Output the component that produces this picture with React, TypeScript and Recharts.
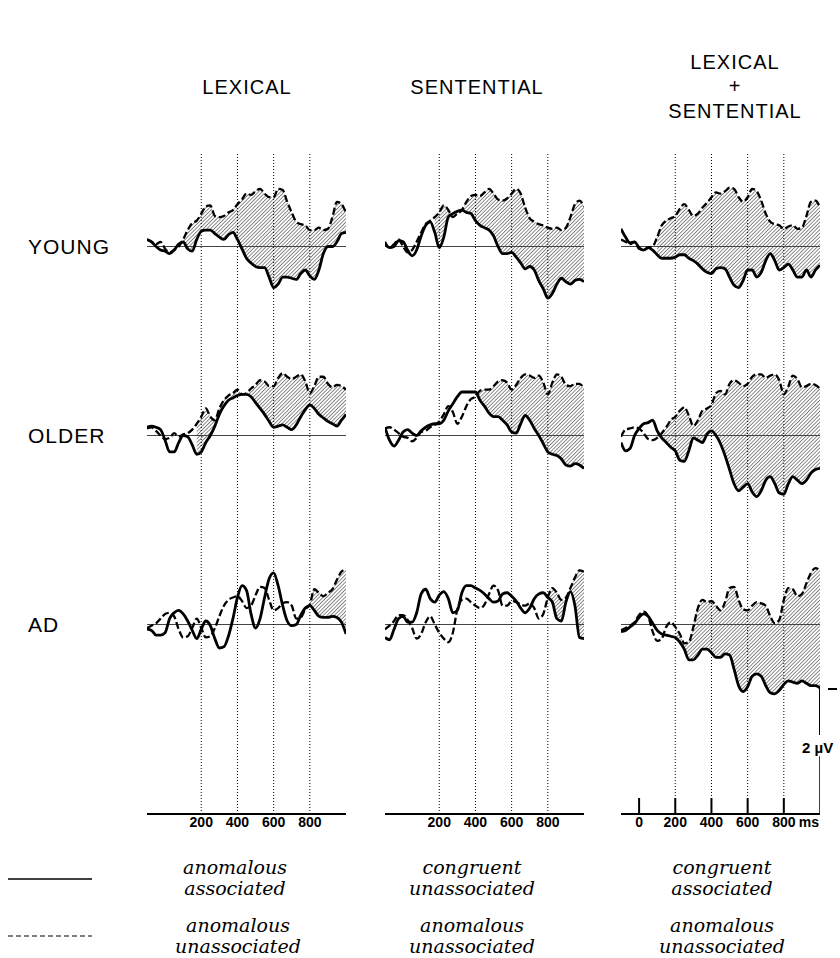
import React from 'react'
import { ComposedChart, Line, Area, XAxis, YAxis, ReferenceLine } from 'recharts'

// sample times (ms), shared by every panel
const TIMES = [-100, -75, -50, -25, 0, 25, 50, 75, 100, 125, 150, 175, 200, 225, 250, 275, 300, 325, 350, 375, 400, 425, 450, 475, 500, 525, 550, 575, 600, 625, 650, 675, 700, 725, 750, 775, 800, 825, 850, 875, 900, 925, 950, 975, 1000]
const GRID_TIMES = [200, 400, 600, 800]
const TICKS_PLAIN = [200, 400, 600, 800]
const TICKS_ZERO = [0, 200, 400, 600, 800]

// amplitudes in microvolts (negative plotted up)
// YOUNG
const youngLexSolid = [-0.3, -0.2, 0, 0.15, 0.2, 0.3, 0.15, -0.1, -0.2, 0.1, 0.2, -0.3, -0.65, -0.7, -0.7, -0.55, -0.4, -0.3, -0.5, -0.6, -0.3, 0.1, 0.5, 0.7, 0.85, 0.9, 0.9, 1.3, 1.75, 1.6, 1.3, 1.3, 1.35, 1.4, 1.15, 1.0, 1.25, 1.4, 1.0, 0.3, 0, 0, -0.2, -0.55, -0.6]
const youngLexDashed = [-0.3, -0.2, -0.1, -0.2, 0.1, 0.25, 0.15, 0, -0.3, -0.7, -1.0, -1.1, -1.4, -1.7, -1.75, -1.3, -1.25, -1.3, -1.45, -1.55, -1.8, -2.0, -2.25, -2.2, -2.35, -2.45, -2.25, -2.1, -2.1, -2.45, -2.4, -1.9, -1.45, -1.05, -0.95, -0.9, -0.7, -0.7, -0.8, -0.7, -0.75, -1.25, -1.9, -1.8, -1.45]
const youngSentSolid = [-0.1, 0.05, 0, -0.25, -0.2, 0.15, 0.4, 0.15, -0.45, -0.9, -1.05, -0.6, 0.05, -0.4, -1.25, -1.4, -1.5, -1.55, -1.45, -1.4, -1.1, -0.9, -0.8, -0.7, -0.45, 0, 0.3, 0.3, 0.25, 0.45, 0.7, 0.95, 0.85, 1.0, 1.45, 1.8, 2.2, 2.0, 1.6, 1.35, 1.5, 1.6, 1.45, 1.4, 1.5]
const youngSentDashed = [-0.2, 0.05, -0.1, -0.3, 0, 0.25, 0.15, -0.2, -0.6, -0.95, -1.1, -1.25, -1.45, -1.75, -1.55, -1.25, -1.4, -1.55, -1.9, -2.15, -2.2, -2.15, -2.3, -2.45, -2.25, -2.0, -1.95, -2.05, -2.25, -2.45, -2.25, -1.65, -1.2, -1.05, -0.95, -0.9, -0.8, -0.75, -0.8, -0.7, -0.8, -1.25, -1.8, -1.95, -1.7]
const youngBothSolid = [-0.75, -0.4, -0.15, -0.2, 0.05, 0.15, 0.05, 0.15, 0.35, 0.5, 0.5, 0.5, 0.45, 0.35, 0.35, 0.5, 0.6, 0.75, 0.95, 1.1, 1.15, 0.95, 0.9, 0.95, 1.3, 1.65, 1.75, 1.45, 1.0, 1.0, 1.3, 1.1, 0.6, 0.3, 0.6, 1.0, 0.9, 0.75, 1.0, 1.3, 1.3, 1.0, 1.3, 1.0, 0.8]
const youngBothDashed = [-0.3, -0.2, -0.1, -0.2, 0.1, 0.15, 0.05, 0, -0.4, -0.9, -1.1, -1.2, -1.3, -1.6, -1.8, -1.55, -1.3, -1.4, -1.65, -1.85, -2.1, -2.3, -2.25, -2.35, -2.5, -2.45, -2.1, -1.9, -2.1, -2.45, -2.35, -1.95, -1.4, -1.05, -0.95, -0.9, -0.75, -0.85, -0.9, -0.75, -0.8, -1.3, -1.9, -1.95, -1.65]

// OLDER
const olderLexSolid = [-0.35, -0.4, -0.35, -0.25, 0.2, 0.7, 0.7, 0.3, 0, 0.05, 0.4, 0.8, 0.7, 0.3, 0, -0.4, -0.9, -1.25, -1.5, -1.6, -1.7, -1.75, -1.75, -1.65, -1.4, -1.15, -0.9, -0.6, -0.35, -0.4, -0.45, -0.35, -0.25, -0.45, -0.8, -1.1, -1.3, -1.15, -0.9, -0.75, -0.6, -0.5, -0.4, -0.65, -0.9]
const olderLexDashed = [-0.3, -0.35, -0.2, 0, 0.15, 0.1, -0.1, 0.05, -0.05, -0.1, -0.25, -0.5, -0.8, -1.15, -0.8, -0.65, -1.15, -1.5, -1.7, -1.8, -1.95, -1.75, -1.8, -2.0, -2.15, -2.35, -2.3, -2.1, -2.1, -2.45, -2.65, -2.5, -2.4, -2.5, -2.6, -2.3, -1.8, -2.1, -2.5, -2.5, -2.2, -2.05, -2.15, -2.1, -1.95]
const olderSentSolid = [-0.35, 0.2, 0.45, 0.2, -0.15, -0.25, -0.1, 0, -0.2, -0.35, -0.45, -0.5, -0.5, -0.65, -1.05, -1.35, -1.65, -1.85, -1.85, -1.85, -1.85, -1.5, -1.25, -0.95, -0.8, -0.8, -0.65, -0.45, -0.15, -0.1, -0.5, -0.85, -0.65, -0.3, 0, 0.35, 0.7, 0.8, 0.85, 1.0, 1.25, 1.3, 1.2, 1.25, 1.4]
const olderSentDashed = [-0.3, -0.35, -0.25, -0.1, 0.05, 0.1, 0.25, 0.1, -0.15, -0.2, -0.35, -0.45, -0.6, -0.9, -1.25, -1.0, -0.5, -0.8, -1.25, -1.55, -1.65, -1.9, -1.95, -1.95, -2.1, -2.3, -2.35, -2.25, -1.95, -2.15, -2.45, -2.6, -2.55, -2.45, -2.55, -2.25, -1.75, -2.25, -2.6, -2.5, -2.15, -2.1, -2.2, -2.2, -2.0]
const olderBothSolid = [0.3, 0.65, 0.55, 0, -0.3, -0.5, -0.55, -0.65, -0.2, 0.1, 0.3, 0.5, 0.65, 1.05, 1.1, 0.65, 0.1, 0.2, 0.3, -0.05, -0.2, 0, 0.35, 0.85, 1.45, 2.05, 2.35, 2.2, 2.05, 2.4, 2.6, 2.35, 1.9, 1.75, 2.05, 2.45, 2.5, 2.05, 1.75, 1.9, 2.05, 1.9, 1.6, 1.45, 1.4]
const olderBothDashed = [0.05, -0.25, -0.3, -0.35, -0.3, -0.1, 0.15, 0.2, 0.1, -0.1, -0.35, -0.65, -0.8, -1.05, -1.2, -0.85, -0.4, -0.65, -1.05, -1.15, -1.3, -1.8, -1.9, -1.75, -2.2, -2.35, -2.25, -2.1, -2.2, -2.5, -2.6, -2.6, -2.45, -2.55, -2.6, -2.35, -1.75, -2.1, -2.55, -2.4, -2.05, -2.1, -2.2, -2.15, -2.0]

// AD
const adLexSolid = [0.2, 0.25, 0.45, 0.45, 0.35, -0.25, -0.5, -0.6, -0.45, -0.15, 0.25, 0.6, 0.2, -0.15, 0.05, 0.6, 1.0, 0.95, 0.5, -0.25, -1.15, -1.65, -1.45, -0.45, 0.15, -0.25, -1.15, -1.95, -2.2, -1.65, -0.8, -0.15, 0.05, 0, -0.4, -0.7, -0.8, -0.6, -0.35, -0.3, -0.3, -0.35, -0.3, -0.1, 0.4]
const adLexDashed = [0.15, 0.05, -0.05, -0.25, -0.45, -0.5, -0.35, 0.2, 0.55, 0.5, 0.15, -0.25, 0.15, 0.55, 0.5, 0.15, -0.35, -0.8, -1.05, -1.15, -1.2, -1.0, -0.7, -0.8, -1.25, -1.6, -1.55, -1.05, -0.6, -0.7, -0.9, -0.95, -0.8, -0.25, -0.3, -0.65, -0.85, -1.5, -1.35, -1.2, -1.35, -1.5, -1.9, -2.25, -2.35]
const adSentSolid = [0.55, 0.65, 0.2, -0.25, -0.35, -0.1, -0.1, -0.5, -1.3, -1.5, -1.1, -0.95, -1.25, -1.4, -1.1, -0.5, -0.6, -1.35, -1.65, -1.65, -1.55, -1.45, -1.3, -1.1, -0.95, -1.0, -1.3, -1.35, -1.2, -1.0, -0.7, -0.5, -0.7, -1.1, -1.3, -1.35, -1.15, -0.95, -0.25, -0.15, -0.95, -1.4, -0.8, 0.55, 0.6]
const adSentDashed = [0.2, 0.05, -0.15, -0.4, -0.4, -0.2, 0.15, 0.6, 0.4, -0.1, -0.35, 0, 0.35, 0.6, 0.75, 0.35, -0.65, -1.05, -1.1, -0.95, -0.8, -0.7, -0.85, -1.3, -1.65, -1.45, -0.8, -0.8, -1.0, -0.95, -0.85, -0.8, -0.9, -0.7, -0.25, -0.45, -1.15, -1.55, -1.35, -1.05, -1.15, -1.55, -2.0, -2.3, -2.25]
const adBothSolid = [0.3, 0.25, 0.1, -0.05, -0.3, -0.45, -0.35, -0.05, 0.25, 0.4, 0.45, 0.5, 0.55, 0.75, 1.05, 1.5, 1.5, 1.3, 1.05, 1.05, 1.2, 1.4, 1.4, 1.25, 1.3, 1.9, 2.6, 2.85, 2.65, 2.2, 2.1, 2.2, 2.6, 2.9, 2.95, 2.8, 2.55, 2.4, 2.45, 2.5, 2.4, 2.5, 2.6, 2.6, 2.7]
const adBothDashed = [0.25, 0.15, 0.05, -0.1, -0.4, -0.55, -0.35, 0.3, 0.7, 0.6, 0.1, -0.1, 0.1, 0.4, 0.8, 0.75, 0.1, -0.7, -1.05, -0.95, -1.0, -0.8, -0.6, -0.95, -1.55, -1.6, -1.05, -0.65, -0.6, -0.8, -0.95, -0.9, -0.8, -0.35, -0.05, -0.2, -1.05, -1.55, -1.5, -1.2, -1.3, -1.75, -2.2, -2.4, -2.3]

// layout
const COL_X = [147, 385, 621]
const ROW_TOP = [152, 341, 530]
const PLOT_W = 199
const ROW_H = 189
const LAST_H = 284
const AXIS_H = 30
const SANS = '"Liberation Sans", Arial, sans-serif'
const SERIF = '"DejaVu Serif", serif'

const PANELS = [
  { id: 'yl', row: 0, col: 0, solid: youngLexSolid, dashed: youngLexDashed, shadeFrom: 100 },
  { id: 'ys', row: 0, col: 1, solid: youngSentSolid, dashed: youngSentDashed, shadeFrom: 175 },
  { id: 'yb', row: 0, col: 2, solid: youngBothSolid, dashed: youngBothDashed, shadeFrom: 100 },
  { id: 'ol', row: 1, col: 0, solid: olderLexSolid, dashed: olderLexDashed, shadeFrom: 175 },
  { id: 'os', row: 1, col: 1, solid: olderSentSolid, dashed: olderSentDashed, shadeFrom: 400 },
  { id: 'ob', row: 1, col: 2, solid: olderBothSolid, dashed: olderBothDashed, shadeFrom: 100 },
  { id: 'al', row: 2, col: 0, solid: adLexSolid, dashed: adLexDashed, shadeFrom: 800 },
  { id: 'as', row: 2, col: 1, solid: adSentSolid, dashed: adSentDashed, shadeFrom: 800 },
  { id: 'ab', row: 2, col: 2, solid: adBothSolid, dashed: adBothDashed, shadeFrom: 200 },
]

const makeTick = (withMs: boolean) => (props: any) => {
  const { x, y, payload } = props
  return (
    <g>
      <text x={x} y={y} dy={9} textAnchor="middle" fontSize={14} fontWeight="bold" fontFamily={SANS} fill="#000">
        {payload.value}
      </text>
      {withMs && payload.value === 800 && (
        <text x={x + 15} y={y} dy={9} textAnchor="start" fontSize={14} fontWeight="bold" fontFamily={SANS} fill="#000">
          ms
        </text>
      )}
    </g>
  )
}

function Panel({ p }: { p: any }) {
  const last = p.row === 2
  const rightCol = p.col === 2
  const domain = last ? [-4.02, 8.06] : [-4.02, 4.02]
  const data = TIMES.map((t, i) => ({
    t,
    solid: p.solid[i],
    dashed: p.dashed[i],
    shade: t >= p.shadeFrom ? [p.solid[i], p.dashed[i]] : null,
  }))

  return (
    <div style={{ position: 'absolute', left: COL_X[p.col], top: ROW_TOP[p.row] }}>
      <ComposedChart width={PLOT_W} height={last ? LAST_H + AXIS_H : ROW_H} data={data} margin={{ top: 0, right: 0, bottom: 0, left: 0 }}>
        <defs>
          <pattern id={`hatch-${p.id}`} patternUnits="userSpaceOnUse" width="2.6" height="2.6" patternTransform="rotate(45)">
            <line x1="0" y1="0" x2="0" y2="2.6" stroke="#000" strokeWidth="1.5" />
          </pattern>
        </defs>
        <XAxis
          type="number"
          dataKey="t"
          domain={[-100, 1000]}
          hide={!last}
          height={AXIS_H}
          ticks={rightCol ? TICKS_ZERO : TICKS_PLAIN}
          interval={0}
          axisLine={{ stroke: '#000', strokeWidth: 2 }}
          tickLine={false}
          tickSize={2}
          tickMargin={2}
          tick={makeTick(rightCol)}
        />
        <YAxis type="number" hide reversed domain={domain} allowDataOverflow />
        <ReferenceLine y={0} stroke="#444" strokeWidth={1} />
        {GRID_TIMES.map((t) => (
          <ReferenceLine key={t} x={t} stroke="#000" strokeWidth={1} strokeDasharray="1 2" />
        ))}
        <Area dataKey="shade" type="monotone" fill={`url(#hatch-${p.id})`} stroke="none" isAnimationActive={false} />
        <Line dataKey="dashed" type="monotone" stroke="#000" strokeWidth={2.3} strokeDasharray="7 3" dot={false} activeDot={false} isAnimationActive={false} />
        <Line dataKey="solid" type="monotone" stroke="#000" strokeWidth={2.8} dot={false} activeDot={false} isAnimationActive={false} />
        {last && rightCol &&
          TICKS_ZERO.map((t) => (
            <ReferenceLine key={`tk${t}`} segment={[{ x: t, y: 8.06 }, { x: t, y: 7.38 }]} stroke="#000" strokeWidth={2} />
          ))}
        {last && rightCol && (
          <ReferenceLine segment={[{ x: 1000, y: 2.7 }, { x: 1000, y: 4.7 }]} stroke="#000" strokeWidth={2} ifOverflow="visible" />
        )}
        {last && rightCol && (
          <ReferenceLine segment={[{ x: 1000, y: 5.6 }, { x: 1000, y: 8.06 }]} stroke="#000" strokeWidth={1.5} ifOverflow="visible" />
        )}
      </ComposedChart>
    </div>
  )
}

const centered = (x: number, y: number, extra: any = {}) => ({
  position: 'absolute' as const,
  left: x,
  top: y,
  transform: 'translate(-50%, -50%)',
  whiteSpace: 'nowrap' as const,
  ...extra,
})

const headStyle = { fontFamily: SANS, fontSize: 20, letterSpacing: 1, color: '#000' }
const rowStyle = { position: 'absolute' as const, left: 28, fontFamily: SANS, fontSize: 21, letterSpacing: 1, color: '#000', transform: 'translateY(-50%)' }
const legStyle = { fontFamily: SERIF, fontStyle: 'italic', fontSize: 19, color: '#000', lineHeight: 1 }

export default function App() {
  return (
    <div style={{ position: 'absolute', left: 0, top: 0, width: 840, height: 958, background: '#fff', overflow: 'hidden' }}>
      <div style={centered(247, 87, headStyle)}>LEXICAL</div>
      <div style={centered(477, 87, headStyle)}>SENTENTIAL</div>
      <div style={centered(735, 62, headStyle)}>LEXICAL</div>
      <div style={centered(735, 86, headStyle)}>+</div>
      <div style={centered(735, 111, headStyle)}>SENTENTIAL</div>

      <div style={{ ...rowStyle, top: 247 }}>YOUNG</div>
      <div style={{ ...rowStyle, top: 436 }}>OLDER</div>
      <div style={{ ...rowStyle, top: 625 }}>AD</div>

      {PANELS.map((p) => (
        <Panel key={p.id} p={p} />
      ))}

      <div style={{ position: 'absolute', left: 828, top: 688, width: 9, height: 2, background: '#000' }} />
      <div style={{ position: 'absolute', left: 802, top: 739, fontFamily: SANS, fontWeight: 'bold', fontSize: 15, whiteSpace: 'nowrap' }}>2 µV</div>

      <svg style={{ position: 'absolute', left: 0, top: 870 }} width={100} height={80}>
        <line x1={8} y1={9} x2={92} y2={9} stroke="#000" strokeWidth={1.5} />
        <line x1={8} y1={66} x2={92} y2={66} stroke="#000" strokeWidth={1.2} strokeDasharray="5 3" />
      </svg>

      <div style={centered(235, 867, legStyle)}>anomalous</div>
      <div style={centered(235, 888, legStyle)}>associated</div>
      <div style={centered(238, 925, legStyle)}>anomalous</div>
      <div style={centered(238, 946, legStyle)}>unassociated</div>

      <div style={centered(472, 867, legStyle)}>congruent</div>
      <div style={centered(472, 888, legStyle)}>unassociated</div>
      <div style={centered(472, 925, legStyle)}>anomalous</div>
      <div style={centered(472, 946, legStyle)}>unassociated</div>

      <div style={centered(722, 867, legStyle)}>congruent</div>
      <div style={centered(722, 888, legStyle)}>associated</div>
      <div style={centered(722, 925, legStyle)}>anomalous</div>
      <div style={centered(722, 946, legStyle)}>unassociated</div>
    </div>
  )
}
